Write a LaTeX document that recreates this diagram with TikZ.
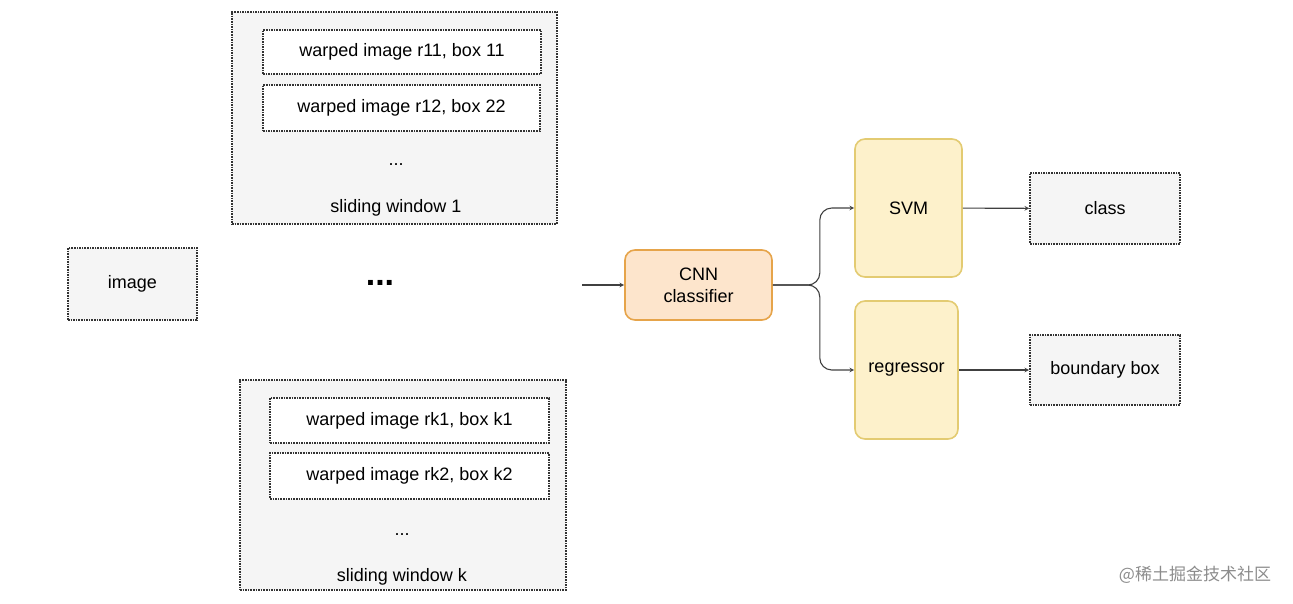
\documentclass[tikz,border=0pt]{standalone}
\usepackage{fontspec}
\setmainfont{Liberation Sans}
\newfontfamily\cjk{Noto Sans CJK SC}
\usetikzlibrary{positioning}
\definecolor{winfill}{HTML}{F5F5F5}
\definecolor{cnnfill}{HTML}{FDE5CC}
\definecolor{cnnline}{HTML}{E6A44A}
\definecolor{headfill}{HTML}{FDF1CB}
\definecolor{headline}{HTML}{E3CB72}
\tikzset{
  dotbox/.style={draw=black!80,densely dotted,line width=1.6pt,fill=winfill,inner sep=0pt},
  stepbox/.style={rounded corners=10pt,line width=1.6pt,inner sep=0pt,align=center},
  flow/.style={->,>=stealth,line width=1.1pt,draw=black!75}
}
\begin{document}
\begin{tikzpicture}[x=1pt,y=-1pt,font=\fontsize{18}{22}\selectfont]
            \useasboundingbox (0,0) rectangle (1293,603);
            % sliding window 1
            \node[dotbox,minimum width=325pt,minimum height=212pt] (W1) at (394.5,118) {};
            \node[dotbox,fill=white,minimum width=278pt,minimum height=44pt] (r11) at (402,52) {warped image r11, box 11};
            \node[dotbox,fill=white,minimum width=277pt,minimum height=46pt] (r12) at (401.5,108) {warped image r12, box 22};
            \node (d1) at (396,165) {...};
            \node (s1) at (396,208) {sliding window 1};
            % sliding window k
            \node[dotbox,minimum width=326pt,minimum height=210pt] (Wk) at (403,485) {};
            \node[dotbox,fill=white,minimum width=279pt,minimum height=45pt] (rk1) at (409.5,420.5) {warped image rk1, box k1};
            \node[dotbox,fill=white,minimum width=279pt,minimum height=46pt] (rk2) at (409.5,476) {warped image rk2, box k2};
            \node (dk) at (402,535) {...};
            \node (sk) at (402,577) {sliding window k};
            % input
            \node[dotbox,minimum width=129pt,minimum height=72pt] (image) at (132.5,284) {image};
            \node[font=\fontsize{34}{34}\selectfont\bfseries] (dots) at (380,283) {...};
            % classifier and heads
            \coordinate (in) at (582,285);
            \node[stepbox,draw=cnnline,fill=cnnfill,minimum width=147pt,minimum height=70pt] (CNN) at (698.5,285) {CNN\\classifier};
            \node[stepbox,draw=headline,fill=headfill,minimum width=107pt,minimum height=138pt] (SVM) at (908.5,208) {SVM};
            \node[stepbox,draw=headline,fill=headfill,minimum width=103pt,minimum height=138pt] (reg) at (906.5,370) {regressor};
            \node[dotbox,minimum width=150pt,minimum height=71pt] (class) at (1105,208.5) {class};
            \node[dotbox,minimum width=150pt,minimum height=70pt] (bbox) at (1105,370) {boundary box};
            \draw[flow] (in) -- (CNN);
            \draw[flow,rounded corners=12pt] (CNN.east) -- ++(47,0) |- (SVM.west);
            \draw[flow,rounded corners=12pt] (CNN.east) -- ++(47,0) |- (reg.west);
            \draw[flow] (SVM) -- (class);
            \draw[flow] (reg) -- (bbox);
            \node[text=black!45,font=\cjk\fontsize{17}{20}\selectfont] (mark) at (1195,575) {@稀土掘金技术社区};
        \end{tikzpicture}
\end{document}
